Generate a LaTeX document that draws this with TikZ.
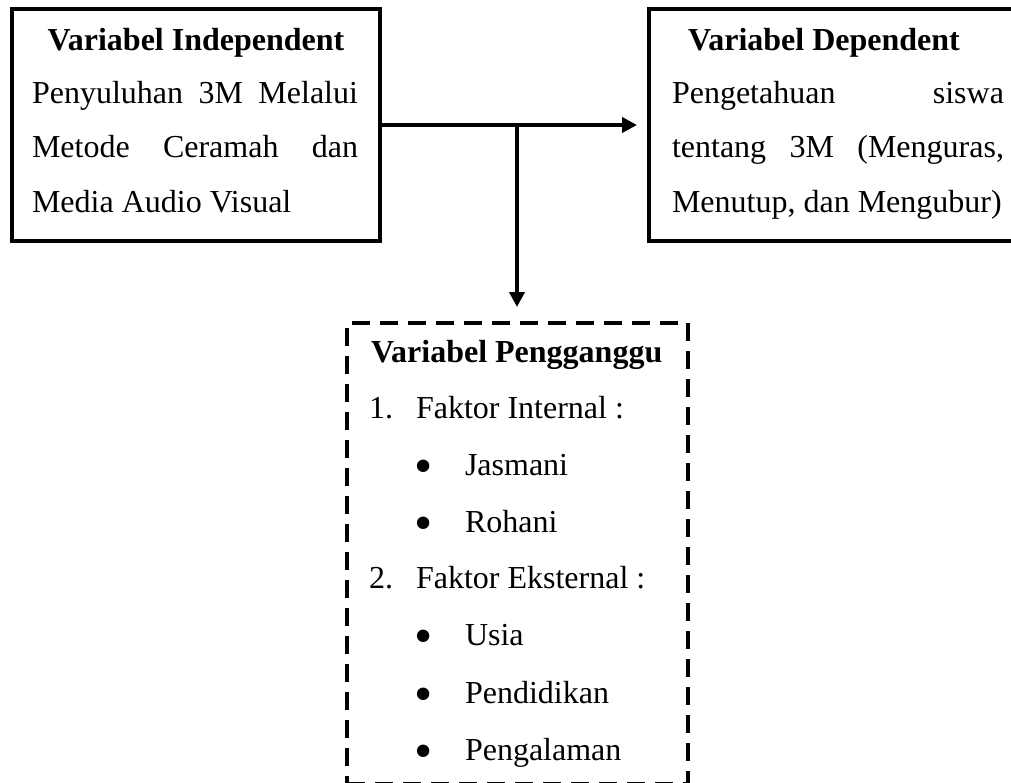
\documentclass[tikz,border=0pt]{standalone}
\usepackage{fontspec}
\setmainfont{Liberation Serif}
\usetikzlibrary{arrows.meta}
\newcommand{\bigtxt}{\fontsize{32}{54}\selectfont}
\tikzset{
  box/.style={draw, line width=4pt, rectangle, inner sep=0pt, outer sep=0pt},
  dbox/.style={draw, line width=4pt, rectangle, inner sep=0pt, outer sep=0pt, dash pattern=on 18pt off 10pt},
  txt/.style={inner sep=0pt, outer sep=0pt, anchor=base west},
  ttl/.style={inner sep=0pt, outer sep=0pt, anchor=base, font=\bigtxt\bfseries},
  bul/.style={inner sep=0pt, outer sep=0pt, anchor=base, font=\fontsize{52}{54}\selectfont},
  arr/.style={line width=4pt, -{Triangle[length=15pt,width=15pt]}},
}
\begin{document}
\begin{tikzpicture}[x=1pt,y=-1pt,font=\bigtxt]
\useasboundingbox (0,0) rectangle (1011,782);
\fill[white] (0,0) rectangle (1011,782);
% boxes
\node[box, minimum width=368pt, minimum height=232pt] (indep) at (196,125) {};
\node[box, minimum width=367pt, minimum height=232pt] (dep) at (832.5,125) {};
\node[dbox, minimum width=341pt, minimum height=461pt] (peng) at (517.5,553.5) {};
% connectors
\coordinate (j) at (517,125);
\draw[arr] (indep.east) -- ([xshift=-12pt]dep.west);
\draw[arr] (j) -- ([yshift=16pt]peng.north -| j);
% independent text
\node[ttl] (t1) at (196,50) {Variabel Independent};
\node[txt] (a1) at (32,103) {\makebox[326pt][s]{Penyuluhan 3M Melalui}};
\node[txt] (a2) at (32,157) {\makebox[326pt][s]{Metode Ceramah dan}};
\node[txt] (a3) at (32,212) {Media Audio Visual};
% dependent text
\node[ttl] (t2) at (824,50) {Variabel Dependent};
\node[txt] (b1) at (672,103) {\makebox[332pt][s]{Pengetahuan siswa}};
\node[txt] (b2) at (672,157) {\makebox[332pt][s]{tentang 3M (Menguras,}};
\node[txt] (b3) at (672,212) {Menutup, dan Mengubur)};
% pengganggu text
\node[txt, font=\bigtxt\bfseries] (t3) at (371,362) {Variabel Pengganggu};
\node[txt] (n1) at (369,418) {1.};
\node[txt] (f1) at (416,418) {Faktor Internal :};
\node[bul] (p1) at (424,483) {•};
\node[txt] (i1) at (465,475) {Jasmani};
\node[bul] (p2) at (424,540) {•};
\node[txt] (i2) at (465,532) {Rohani};
\node[txt] (n2) at (369,588) {2.};
\node[txt] (f2) at (416,588) {Faktor Eksternal :};
\node[bul] (p3) at (424,653) {•};
\node[txt] (i3) at (465,645) {Usia};
\node[bul] (p4) at (424,711) {•};
\node[txt] (i4) at (465,703) {Pendidikan};
\node[bul] (p5) at (424,768) {•};
\node[txt] (i5) at (465,760) {Pengalaman};
\end{tikzpicture}
\end{document}
